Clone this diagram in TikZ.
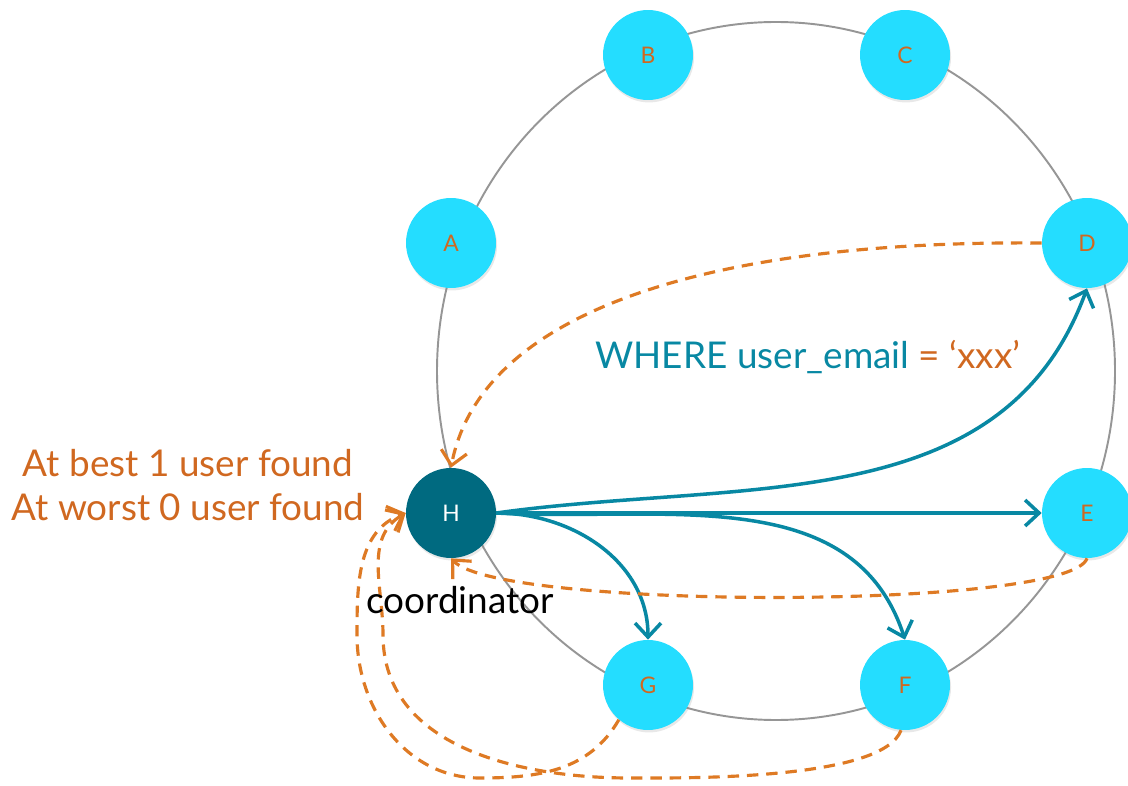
\documentclass[tikz,border=0pt]{standalone}
\usepackage{fontspec}
\setmainfont{Lato}
\usetikzlibrary{arrows.meta,shadows,positioning}
\definecolor{ringgray}{RGB}{150,150,150}
\definecolor{peercyan}{RGB}{36,221,255}
\definecolor{coordteal}{RGB}{0,106,128}
\definecolor{queryteal}{RGB}{8,136,163}
\definecolor{replyorange}{RGB}{222,122,36}
\definecolor{labelorange}{RGB}{208,104,32}
\tikzset{
  peer/.style={circle,fill=peercyan,minimum size=1.8cm,inner sep=0pt,
    font=\fontsize{13}{15}\selectfont,text=labelorange,
    drop shadow={opacity=0.18,shadow xshift=0.6pt,shadow yshift=-1.4pt}},
  coord/.style={peer,fill=coordteal,text=white},
  query/.style={-{Straight Barb[length=2.8mm,width=5.2mm]},line width=2pt,
    color=queryteal},
  reply/.style={-{Straight Barb[length=2.8mm,width=5.2mm]},line width=1.8pt,
    color=replyorange,dash pattern=on 6.5pt off 4.5pt},
  note/.style={font=\fontsize{21}{25}\selectfont,align=center},
}
\begin{document}
\begin{tikzpicture}[x=0.02cm,y=0.02cm]
\useasboundingbox (0,0) rectangle (1128,785);
% the ring
\draw[color=ringgray,line width=1.1pt](776,414) ellipse[x radius=339,y radius=349];
\foreach \n/\x/\y in {A/451/542,B/648/730,C/905/730,D/1087/542,
                      E/1087/272,F/905/100,G/648/100}{
  \node[peer] (\n) at (\x,\y) {\n};}
\node[coord] (H) at (451,272) {H};
% query from the coordinator
\draw[query](H.east) to[out=8,in=-110] (D.south);
\draw[query](H.east) -- (E.west);
\draw[query](H.east) to[out=-3,in=108] (F.north);
\draw[query](H.east) to[out=0,in=90] (G.north);
% replies
\draw[reply](D.west) .. controls (700,545) and (480,470) .. (H.north);
\draw[reply](E.south) .. controls (1070,175) and (500,175) .. (H.south);
\draw[reply](G.-130) to[out=-120,in=0] (480,7) to[out=180,in=-90] (357,150)
  to[out=90,in=200] (H.west);
\draw[reply](F.-95) to[out=-110,in=0,looseness=0.5] (630,7)
  to[out=180,in=-90] (383,150) to[out=90,in=210] (H.west);
\node[note,text=labelorange] (result) at (188,300)
  {At best 1 user found\\At worst 0 user found};
\node[note,text=black] (role) at (460,185) {coordinator};
\node[note,text=queryteal] (filter) at (808,428)
  {WHERE user\_email \textcolor{labelorange}{= `xxx'}};
\end{tikzpicture}
\end{document}
